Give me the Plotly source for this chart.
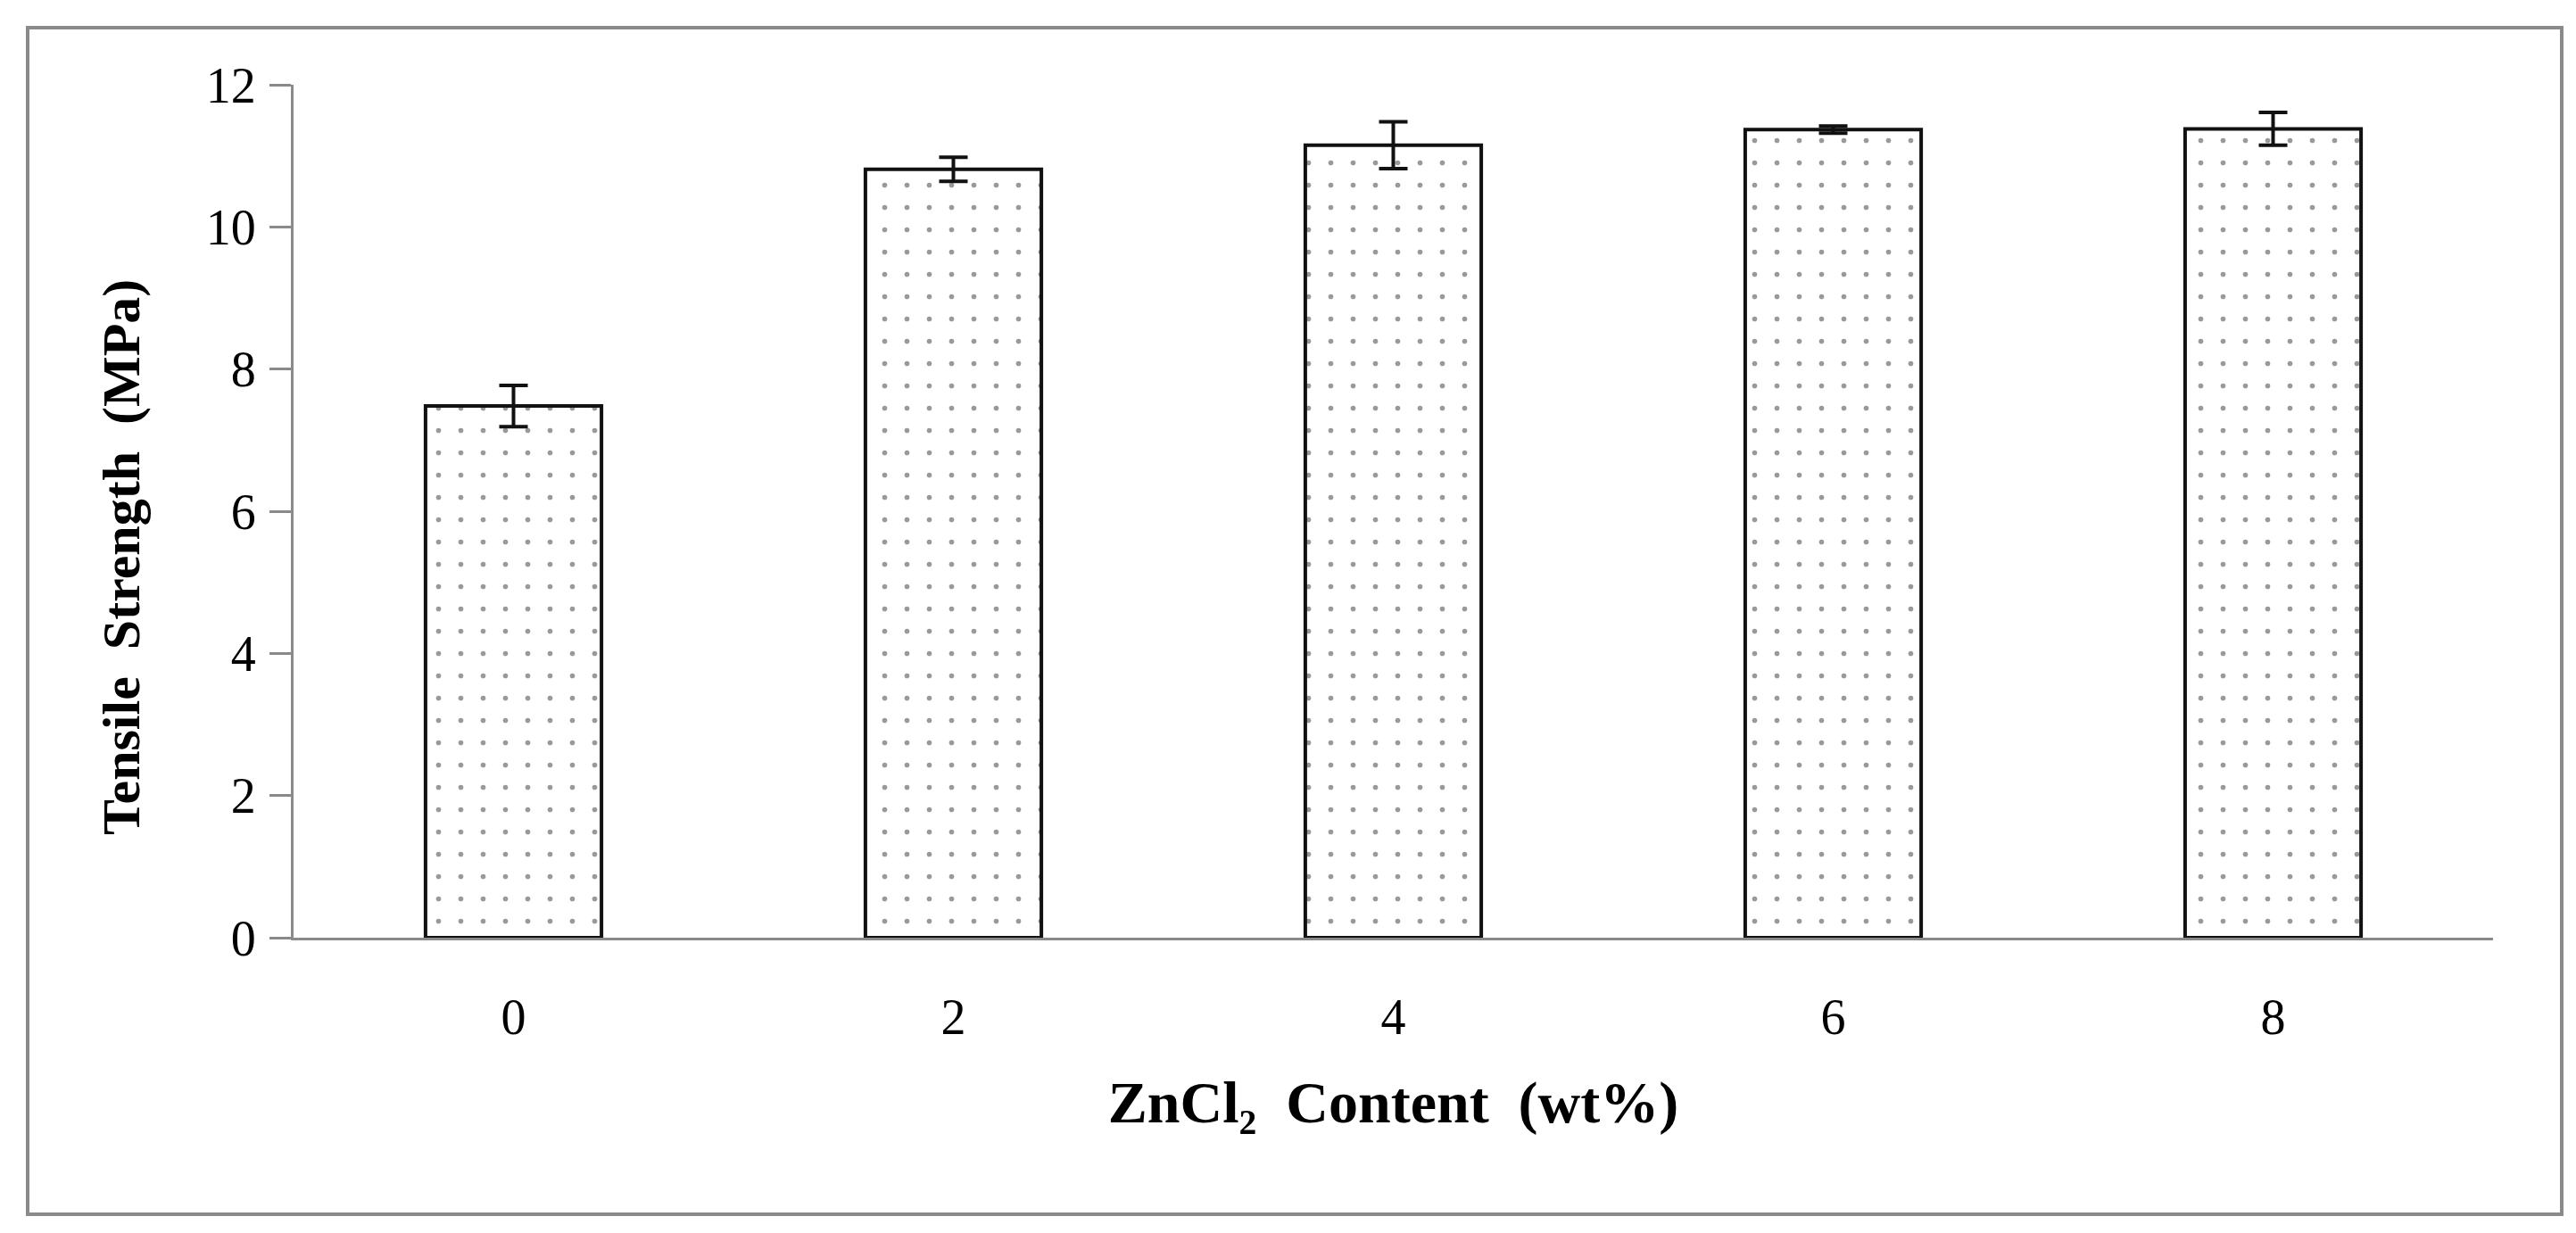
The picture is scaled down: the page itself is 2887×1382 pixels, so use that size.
import plotly.graph_objects as go

# Data
zncl2_content = ["0", "2", "4", "6", "8"]          # wt%
tensile_strength = [7.48, 10.81, 11.15, 11.37, 11.38]  # MPa
tensile_error = [0.29, 0.17, 0.33, 0.05, 0.23]         # MPa

y_ticks = [0, 2, 4, 6, 8, 10, 12]
x_title = "ZnCl₂  Content  (wt%)"
y_title = "Tensile  Strength  (MPa)"

W, H = 2887, 1382
L, R, T, B = 321, 101, 87, 339
FONT = "Liberation Serif, Times New Roman, serif"

fig = go.Figure()
fig.add_trace(go.Bar(
    x=zncl2_content,
    y=tensile_strength,
    error_y=dict(type="data", array=tensile_error, visible=True,
                 color="#111111", thickness=4, width=16),
    marker=dict(
        color="white",
        line=dict(color="#111111", width=4),
        pattern=dict(shape=".", fgcolor="#333333", bgcolor="white",
                     size=25, solidity=0.04),
    ),
    showlegend=False,
))

# outer frame in pixel-derived paper coordinates
pw, ph = W - L - R, H - T - B
def px(x):
    return (x - L) / pw
def py(y):
    return (H - B - y) / ph

fig.add_shape(type="rect", xref="paper", yref="paper",
              x0=px(23), x1=px(2863), y0=py(1353), y1=py(23),
              line=dict(color="#8a8a8a", width=4), fillcolor="rgba(0,0,0,0)",
              layer="below")

# y-axis title placed as an annotation
fig.add_annotation(text="<b>" + y_title + "</b>", xref="paper", yref="paper",
                   x=px(128), y=py(617), textangle=-90, showarrow=False,
                   xanchor="center", yanchor="middle",
                   font=dict(size=60, family=FONT, color="black"))

fig.update_layout(
    width=W, height=H,
    margin=dict(l=L, r=R, t=T, b=B, autoexpand=False),
    paper_bgcolor="white", plot_bgcolor="white",
    bargap=0.6,
    font=dict(family=FONT, color="black"),
    xaxis=dict(
        type="category",
        range=[-0.5, 4.5],
        showline=True, linecolor="#8a8a8a", linewidth=3,
        ticks="", showgrid=False, zeroline=False,
        tickfont=dict(size=56, family=FONT, color="black"),
        ticklabelstandoff=38,
        title=dict(text="<b>" + x_title + "</b>",
                   font=dict(size=66, family=FONT, color="black"),
                   standoff=42),
    ),
    yaxis=dict(
        range=[0, 12],
        tickvals=y_ticks,
        showline=True, linecolor="#8a8a8a", linewidth=3,
        ticks="outside", ticklen=24, tickwidth=3, tickcolor="#8a8a8a",
        showgrid=False, zeroline=False,
        tickfont=dict(size=56, family=FONT, color="black"),
        ticklabelstandoff=4,
    ),
)

fig.write_html("out.html")
